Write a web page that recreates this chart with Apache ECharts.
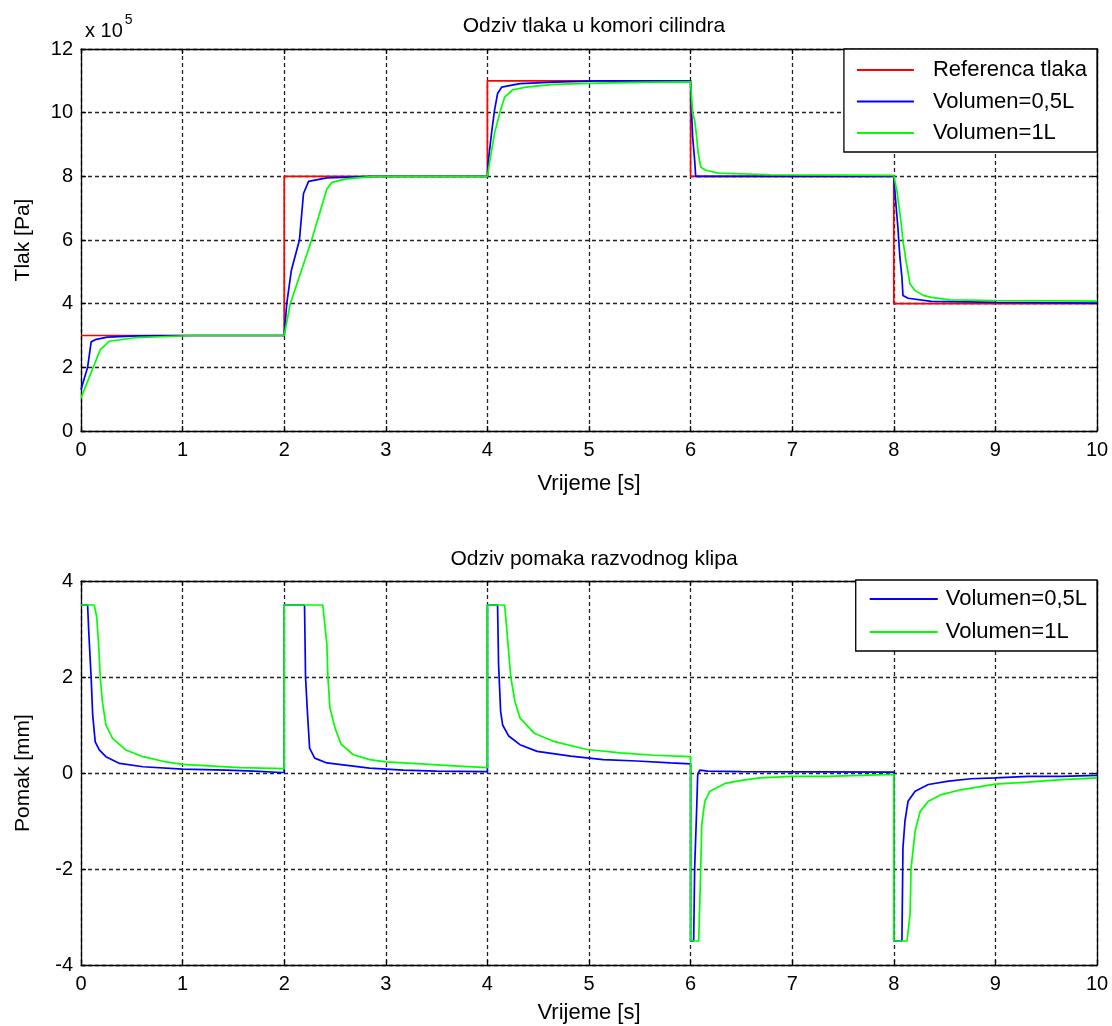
<!DOCTYPE html>
<html>
<head>
<meta charset="utf-8">
<script src="https://cdn.jsdelivr.net/npm/echarts@6/dist/echarts.min.js"></script>
<style>
html,body{margin:0;padding:0;background:#fff;}
#chart{width:1112px;height:1026px;}
</style>
</head>
<body>
<div id="chart"></div>
<script>
// ---------- DATA (pressure in units of 1e5 Pa) ----------
const xTicks = [0,1,2,3,4,5,6,7,8,9,10];
const pressureTicks = [0,2,4,6,8,10,12];
const displacementTicks = [-4,-2,0,2,4];

const tRef = [0,2,2,4,4,6,6,8,8,10];
const pRef = [3,3,8,8,11,11,8,8,4,4];

const tPBlue = [0,0.065,0.1,0.15,0.26,0.55,1.1,2.0,2.025,2.07,2.15,2.19,2.24,2.42,2.89,4.0,4.01,4.04,4.07,4.1,4.14,4.32,4.65,5.1,6.0,6.01,6.02,6.04,6.05,8.0,8.01,8.04,8.06,8.08,8.09,8.14,8.37,9.0,10];
const pBlue  = [1.3,2.0,2.8,2.88,2.95,2.99,3.0,3.0,4.0,5.04,6.0,7.46,7.84,7.95,8.0,8.0,8.5,9.34,10.07,10.6,10.8,10.91,10.96,11.0,11.0,9.98,9.24,8.5,8.0,8.0,7.55,6.4,5.46,4.83,4.26,4.17,4.07,4.04,4.02];

const tPGreen = [0,0.12,0.19,0.28,0.53,1.1,2.0,2.06,2.27,2.42,2.47,2.61,2.89,4.0,4.03,4.07,4.12,4.17,4.25,4.38,4.65,5.1,5.5,6.0,6.02,6.04,6.06,6.075,6.1,6.15,6.27,6.78,8.0,8.01,8.03,8.07,8.09,8.12,8.16,8.21,8.29,8.37,8.55,9.0,10];
const pGreen  = [1.04,2.0,2.56,2.82,2.93,3.0,3.0,4.0,6.0,7.6,7.81,7.92,8.0,8.0,8.6,9.35,9.97,10.49,10.72,10.8,10.89,10.93,10.95,10.97,9.98,9.76,9.23,8.72,8.29,8.19,8.1,8.05,8.03,7.87,7.55,6.6,5.98,5.35,4.62,4.41,4.26,4.2,4.12,4.1,4.08];

const tDBlue = [0,0.065,0.075,0.1,0.115,0.14,0.18,0.245,0.38,0.61,1.0,1.43,1.7,1.97,2.0,2.0,2.2,2.21,2.23,2.25,2.3,2.42,2.58,2.84,3.17,3.5,3.97,4.0,4.0,4.1,4.11,4.13,4.15,4.21,4.32,4.49,4.82,5.14,5.47,5.8,6.0,6.0,6.03,6.04,6.06,6.07,6.09,6.17,6.5,8.0,8.0,8.08,8.09,8.11,8.14,8.21,8.34,8.54,8.76,9.0,9.32,9.65,10];
const dBlue  = [3.5,3.5,3.0,1.98,1.21,0.65,0.48,0.34,0.2,0.13,0.08,0.06,0.04,0.01,0.01,3.5,3.5,2.0,1.21,0.52,0.31,0.21,0.17,0.1,0.06,0.04,0.03,0.03,3.5,3.5,2.26,1.29,1.0,0.77,0.59,0.45,0.35,0.28,0.25,0.21,0.19,-3.5,-3.5,-1.98,-0.73,-0.03,0.06,0.04,0.03,0.02,-3.5,-3.5,-1.56,-1.0,-0.59,-0.38,-0.24,-0.17,-0.12,-0.1,-0.07,-0.07,-0.05];

const tDGreen = [0,0.13,0.155,0.175,0.19,0.21,0.245,0.31,0.44,0.61,0.84,1.0,1.26,1.56,2.0,2.0,2.38,2.42,2.43,2.45,2.5,2.56,2.68,2.84,3.0,3.34,3.67,4.0,4.0,4.17,4.2,4.23,4.27,4.32,4.46,4.65,4.98,5.31,5.64,6.0,6.0,6.08,6.1,6.11,6.14,6.19,6.35,6.52,6.68,7.0,7.34,7.67,8.0,8.0,8.13,8.16,8.17,8.21,8.26,8.34,8.47,8.66,9.0,9.32,9.65,10];
const dGreen  = [3.5,3.5,3.25,2.62,1.98,1.5,1.0,0.72,0.48,0.34,0.23,0.18,0.15,0.11,0.09,3.5,3.5,2.68,2.0,1.36,0.94,0.6,0.38,0.28,0.23,0.19,0.15,0.11,3.5,3.5,2.76,2.0,1.5,1.15,0.83,0.66,0.49,0.42,0.37,0.34,-3.5,-3.5,-1.98,-1.07,-0.59,-0.38,-0.21,-0.15,-0.1,-0.07,-0.07,-0.05,-0.03,-3.5,-3.5,-2.95,-1.98,-1.21,-0.8,-0.59,-0.45,-0.35,-0.23,-0.19,-0.14,-0.1];

const names = ['Referenca tlaka','Volumen=0,5L','Volumen=1L'];
const colors = ['#ff0000','#0000ff','#00ff00'];

// ---------- CHART ----------
const zip = (t, v) => t.map((x, i) => [x, v[i]]);
const FONT = '"Liberation Sans", Arial, sans-serif';
const gridLine = {show:true, lineStyle:{color:'#222', width:1.3, type:[4,3]}};

function xAx(gridIndex, primary, gap){
  return {
    type:'value', gridIndex, min:xTicks[0], max:xTicks[xTicks.length-1], interval:1,
    position: primary ? 'bottom' : 'top',
    axisLine:{show:true, onZero:false, lineStyle:{color:'#000', width:1.3}},
    axisTick:{show:true, inside:true, length:5, lineStyle:{color:'#000', width:1.3}},
    axisLabel:{show:primary, fontFamily:FONT, fontSize:20, color:'#000', margin:9},
    splitLine: primary ? gridLine : {show:false},
    name: primary ? 'Vrijeme [s]' : '', nameLocation:'middle', nameGap:gap || 38,
    nameTextStyle:{fontFamily:FONT, fontSize:22, color:'#000'}
  };
}
function yAx(gridIndex, primary, ticks, name){
  return {
    type:'value', gridIndex, min:ticks[0], max:ticks[ticks.length-1], interval:2,
    position: primary ? 'left' : 'right',
    axisLine:{show:true, onZero:false, lineStyle:{color:'#000', width:1.3}},
    axisTick:{show:true, inside:true, length:5, lineStyle:{color:'#000', width:1.3}},
    axisLabel:{show:primary, fontFamily:FONT, fontSize:20, color:'#000', margin:8},
    splitLine: primary ? gridLine : {show:false},
    name: primary ? name : '', nameLocation:'middle', nameGap:47,
    nameTextStyle:{fontFamily:FONT, fontSize:21, color:'#000'}
  };
}
function ser(name, color, xi, yi, data){
  return {name, type:'line', xAxisIndex:xi, yAxisIndex:yi, data, showSymbol:false,
    symbol:'none', animation:false, lineStyle:{color, width:1.7}, itemStyle:{color}};
}

const chart = echarts.init(document.getElementById('chart'), null, {renderer:'canvas'});
chart.setOption({
  backgroundColor:'#fff',
  animation:false,
  title:[
    {text:'Odziv tlaka u komori cilindra', left:589, top:11, textAlign:'center',
     textStyle:{fontFamily:FONT, fontSize:21, fontWeight:'normal', color:'#000'}},
    {text:'Odziv pomaka razvodnog klipa', left:589, top:544, textAlign:'center',
     textStyle:{fontFamily:FONT, fontSize:21, fontWeight:'normal', color:'#000'}},
    {text:'{a|x 10}{b|5}', left:80, top:8,
     textStyle:{fontWeight:'normal', rich:{a:{fontFamily:FONT, fontSize:20, fontWeight:'normal', color:'#000', padding:[8,0,0,0]},
                      b:{fontFamily:FONT, fontSize:14, fontWeight:'normal', color:'#000', verticalAlign:'top', padding:[0,0,0,2]}}}}
  ],
  grid:[
    {left:81, top:49, width:1016, height:382},
    {left:81, top:581, width:1016, height:384}
  ],
  xAxis:[xAx(0,true,42), xAx(0,false), xAx(1,true,37), xAx(1,false)],
  yAxis:[yAx(0,true,pressureTicks,'Tlak [Pa]'), yAx(0,false,pressureTicks,''),
         yAx(1,true,displacementTicks,'Pomak [mm]'), yAx(1,false,displacementTicks,'')],
  legend:[
    {data:names, orient:'vertical', right:15, top:49, icon:'rect', itemWidth:57, itemHeight:2,
     itemGap:9.5, padding:[10,10,8,13], borderColor:'#000', borderWidth:1.3, backgroundColor:'#fff',
     textStyle:{fontFamily:FONT, fontSize:22, lineHeight:20, color:'#000', padding:[0,0,0,14]}, selectedMode:false},
    {data:names.slice(1), orient:'vertical', right:15, top:580, icon:'rect', itemWidth:68, itemHeight:2,
     itemGap:11, padding:[8,10,8,14], borderColor:'#000', borderWidth:1.3, backgroundColor:'#fff',
     textStyle:{fontFamily:FONT, fontSize:22, lineHeight:20, color:'#000', padding:[0,0,0,3]}, selectedMode:false}
  ],
  series:[
    ser(names[0], colors[0], 0, 0, zip(tRef, pRef)),
    ser(names[1], colors[1], 0, 0, zip(tPBlue, pBlue)),
    ser(names[2], colors[2], 0, 0, zip(tPGreen, pGreen)),
    ser(names[1], colors[1], 2, 2, zip(tDBlue, dBlue)),
    ser(names[2], colors[2], 2, 2, zip(tDGreen, dGreen))
  ]
});
</script>
</body>
</html>
